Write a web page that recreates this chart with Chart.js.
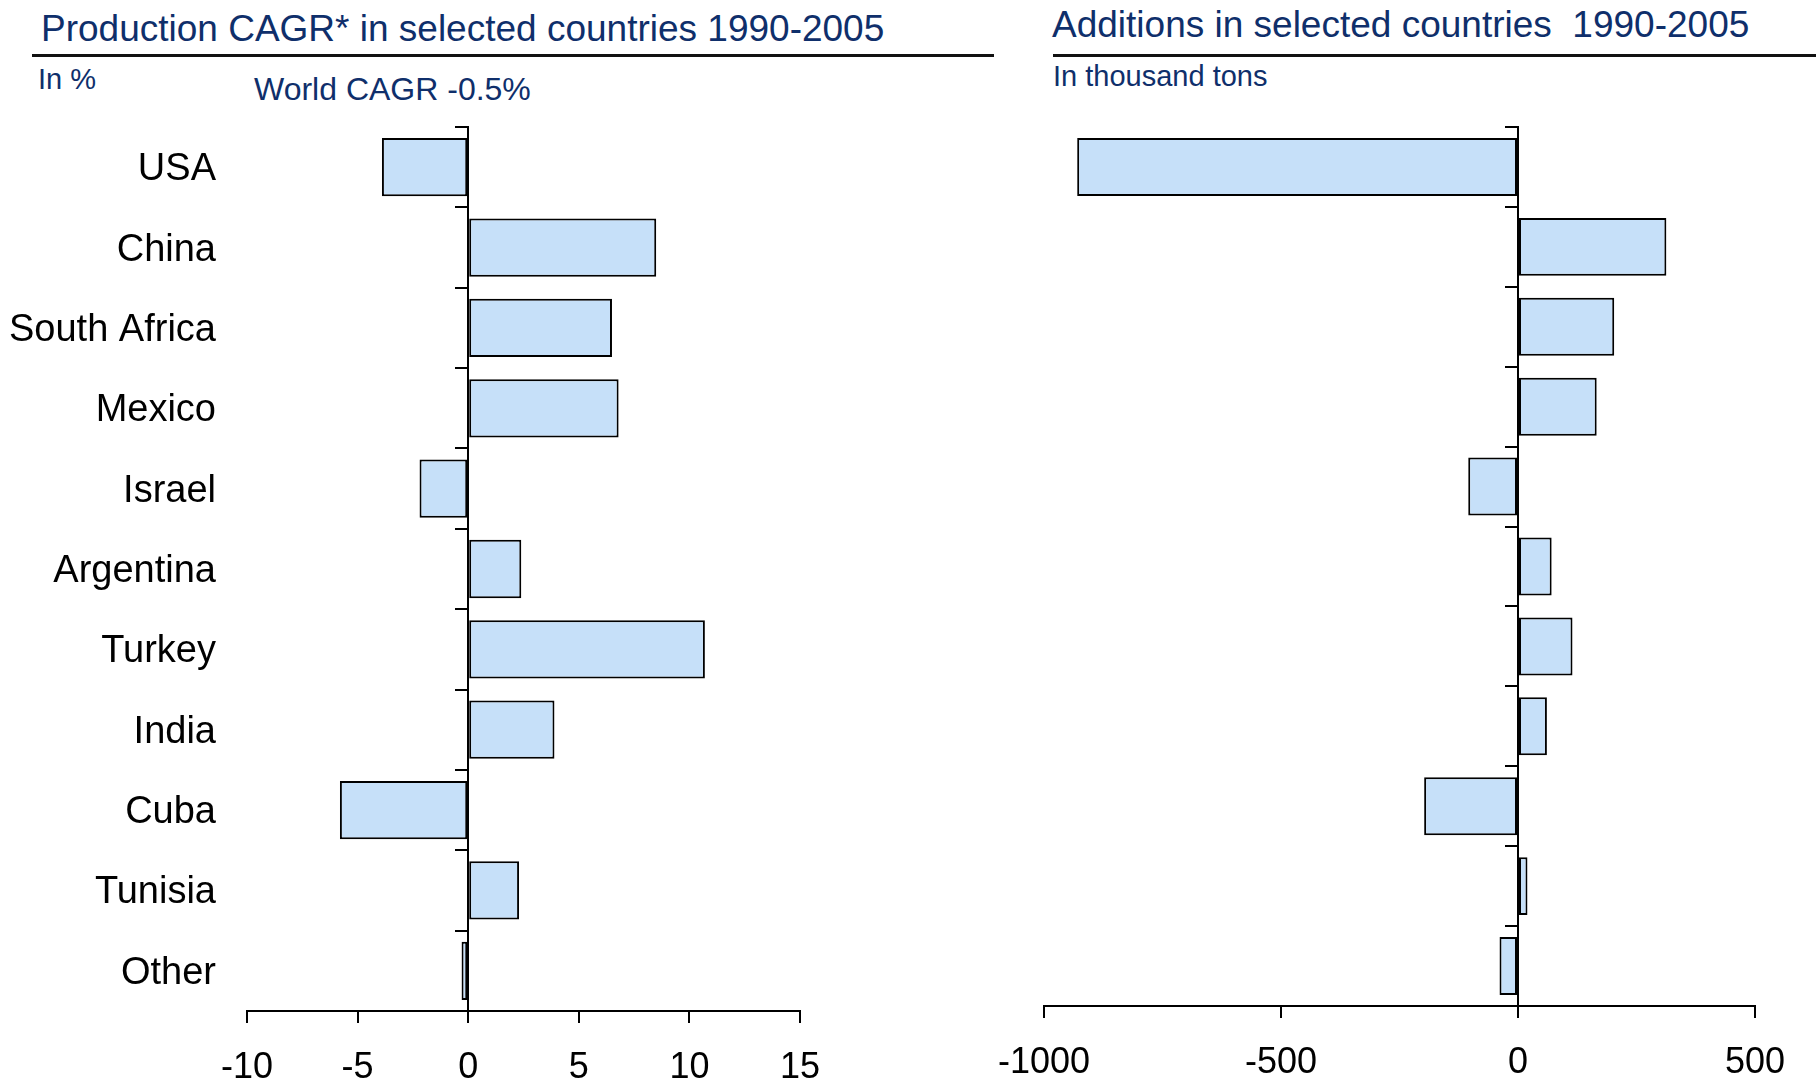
<!DOCTYPE html>
<html>
<head>
<meta charset="utf-8">
<script src="https://cdn.jsdelivr.net/npm/chart.js@4.4.1/dist/chart.umd.min.js"></script>
<style>
  html, body { margin: 0; padding: 0; background: #fff; }
  body { width: 1816px; height: 1083px; position: relative; overflow: hidden;
         font-family: "Liberation Sans", Arial, sans-serif; }
  .title { position: absolute; color: #0f2f6b; font-size: 37px; white-space: pre; line-height: 1; }
  .note  { position: absolute; color: #0f2f6b; font-size: 29px; white-space: pre; line-height: 1; }
  .rule  { position: absolute; height: 3px; background: #111; }
  .panel { position: absolute; }
</style>
</head>
<body>
  <div class="title" style="left:41px; top:10px;">Production CAGR* in selected countries 1990-2005</div>
  <div class="rule" style="left:32px; top:54px; width:962px;"></div>
  <div class="note" style="left:38px; top:65px;">In %</div>
  <div class="note" style="left:254px; top:73px; font-size:32px;">World CAGR -0.5%</div>

  <div class="title" style="left:1052px; top:6px;">Additions in selected countries  1990-2005</div>
  <div class="rule" style="left:1053px; top:54px; width:763px;"></div>
  <div class="note" style="left:1053px; top:62px;">In thousand tons</div>

  <div class="panel" style="left:0; top:100px;"><canvas id="cagrChart" width="860" height="983"></canvas></div>
  <div class="panel" style="left:900px; top:100px;"><canvas id="additionsChart" width="916" height="983"></canvas></div>

<script>
// Countries, top to bottom
const categories = ['USA', 'China', 'South Africa', 'Mexico', 'Israel', 'Argentina',
                    'Turkey', 'India', 'Cuba', 'Tunisia', 'Other'];

// Production CAGR 1990-2005, in %
const cagrValues = [-3.9, 8.5, 6.5, 6.8, -2.2, 2.4, 10.7, 3.9, -5.8, 2.3, -0.3];

// Additions 1990-2005, in thousand tons
const additionValues = [-930, 313, 203, 166, -105, 71, 115, 61, -198, 20, -39];

// Value axis ticks
const cagrTicks = [-10, -5, 0, 5, 10, 15];
const additionTicks = [-1000, -500, 0, 500];

const FONT = '"Liberation Sans", Arial, sans-serif';
const BAR_FILL = '#c6e0f9';

function makeChart(canvasId, values, ticks, opts) {
    const ctx = document.getElementById(canvasId).getContext('2d');

    return new Chart(ctx, {
        type: 'bar',
        data: {
            labels: categories,
            datasets: [{
                data: values,
                backgroundColor: BAR_FILL,
                borderColor: '#000',
                borderWidth: 2,
                borderSkipped: false,
                barPercentage: 0.725,
                categoryPercentage: 1
            }]
        },
        options: {
            indexAxis: 'y',
            responsive: false,
            animation: false,
            layout: {
                padding: opts.padding
            },
            plugins: {
                legend: { display: false },
                tooltip: { enabled: false }
            },
            scales: {
                x: {
                    type: 'linear',
                    min: ticks[0],
                    max: ticks[ticks.length - 1],
                    afterBuildTicks: function(scale) {
                        scale.ticks = ticks.map(v => ({ value: v }));
                    },
                    afterFit: function(scale) {
                        scale.height = opts.xAxisHeight;
                    },
                    grid: {
                        drawOnChartArea: false,
                        drawTicks: true,
                        tickLength: 12,
                        color: '#000',
                        lineWidth: 2
                    },
                    border: { display: true, color: '#000', width: 2 },
                    ticks: {
                        color: '#000',
                        padding: 23,
                        font: { family: FONT, size: 36 },
                        callback: function(value) {
                            return String(value);
                        }
                    }
                },
                y: {
                    type: 'category',
                    display: opts.showLabels,
                    offset: true,
                    afterFit: function(scale) {
                        scale.width = opts.labelWidth;
                        // labels sit in the middle of each band, no overhang needed
                        scale.paddingTop = 0;
                        scale.paddingBottom = 0;
                    },
                    grid: { display: false, drawTicks: false },
                    border: { display: false },
                    ticks: {
                        color: '#000',
                        padding: 31,
                        labelOffset: 2.5,
                        font: { family: FONT, size: 38 }
                    }
                },
                // axis line through zero with tick marks between the bars
                yZero: {
                    axis: 'y',
                    type: 'category',
                    position: { x: 0 },
                    offset: true,
                    grid: {
                        offset: true,
                        drawOnChartArea: false,
                        drawTicks: true,
                        tickLength: 12,
                        color: '#000',
                        lineWidth: 2
                    },
                    border: { display: true, color: '#000', width: 2 },
                    ticks: { display: false }
                }
            }
        }
    });
}

makeChart('cagrChart', cagrValues, cagrTicks, {
    padding: { top: 27, right: 60, left: 0, bottom: 0 },
    xAxisHeight: 72,
    showLabels: true,
    labelWidth: 247
});

makeChart('additionsChart', additionValues, additionTicks, {
    padding: { top: 27, right: 61, left: 144, bottom: 0 },
    xAxisHeight: 77,
    showLabels: false,
    labelWidth: 0
});
</script>
</body>
</html>
